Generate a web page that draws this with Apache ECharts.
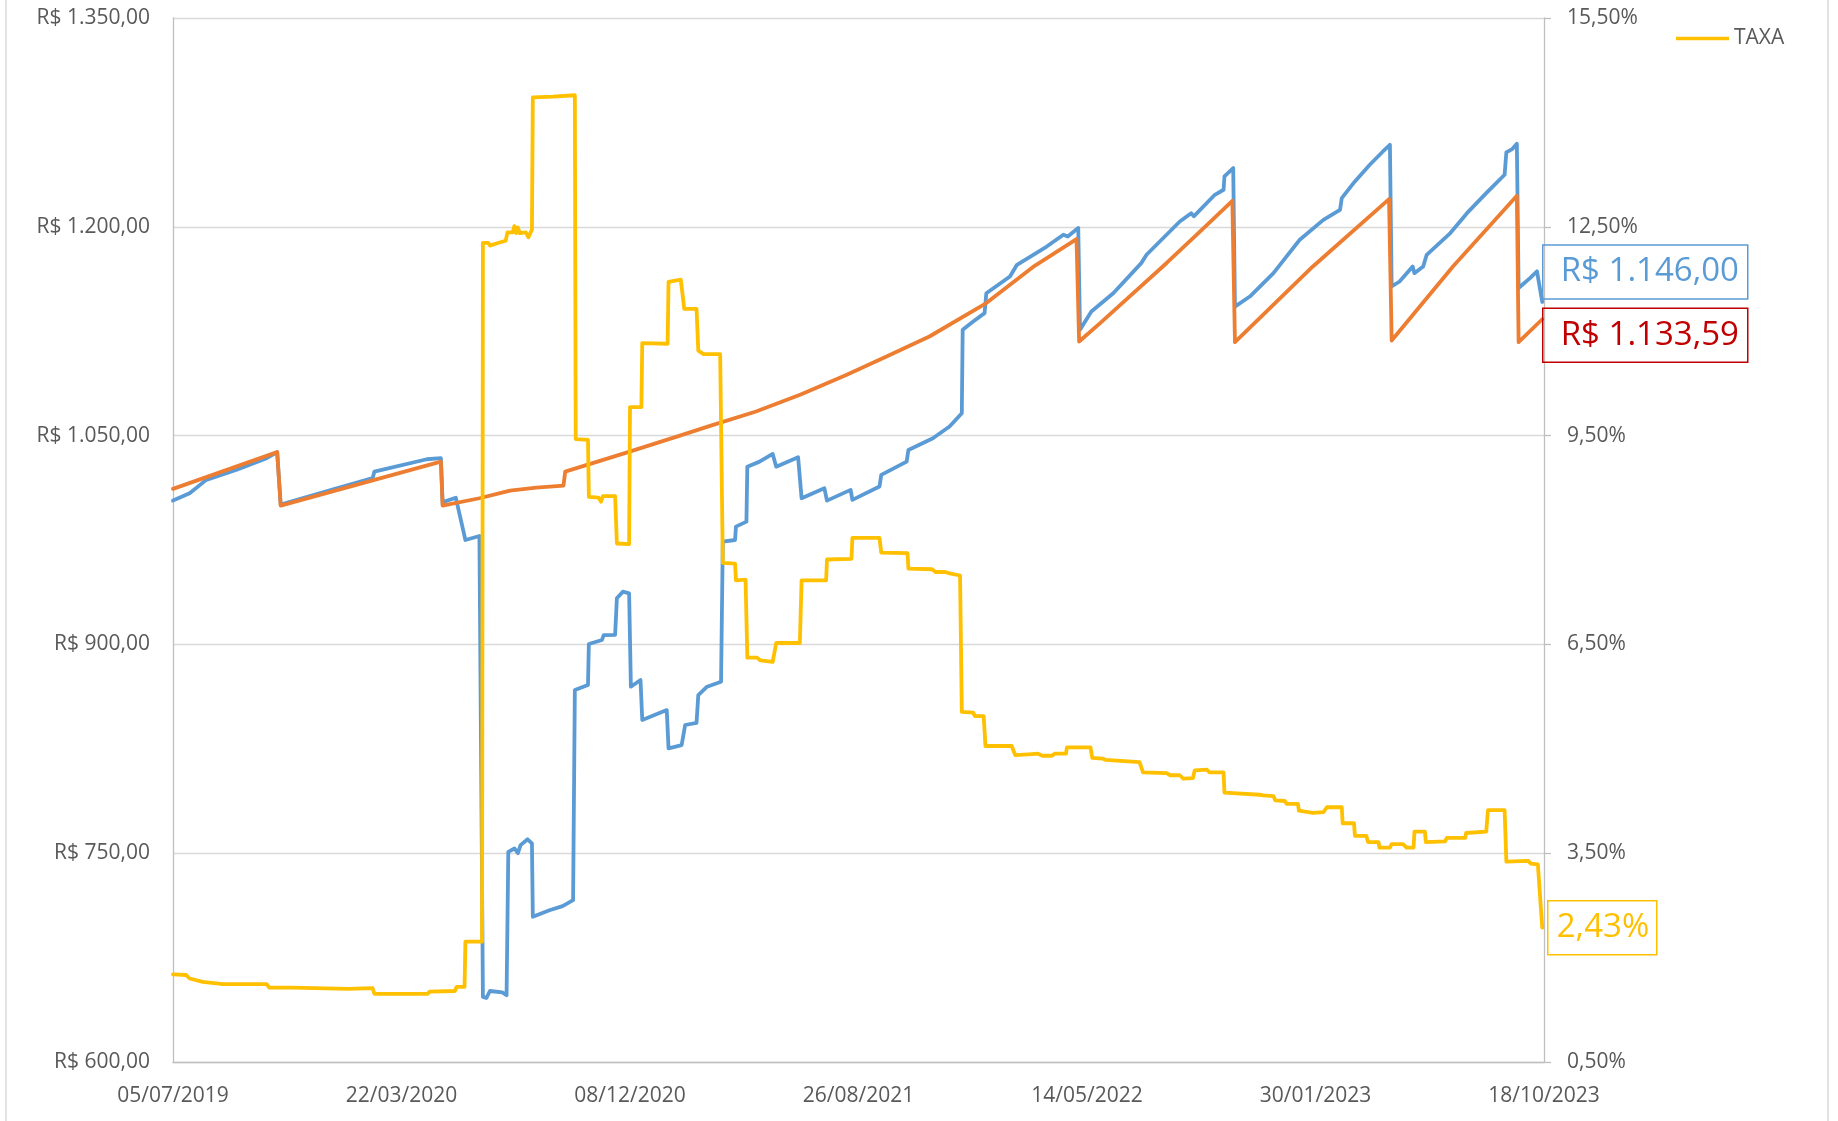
<!DOCTYPE html>
<html>
<head>
<meta charset="utf-8">
<style>
  html, body { margin: 0; padding: 0; background: #fff; }
  #chart { width: 1838px; height: 1121px; }
</style>
<script src="https://cdn.jsdelivr.net/npm/echarts@6/dist/echarts.min.js"></script>
</head>
<body>
<div id="chart"></div>
<script>
// eixo x: dias corridos desde 05/07/2019
const xTickLabels = ['05/07/2019', '22/03/2020', '08/12/2020', '26/08/2021', '14/05/2022', '30/01/2023', '18/10/2023'];
const X_STEP = 261;

// [dia, R$] preço de mercado
const precoMercado = [
  [0, 1003.3], [19, 1008.6], [38, 1018.2], [72, 1025.3], [107, 1033.8], [119, 1038.1], [123, 1000.5],
  [187, 1012.2], [228, 1019.4], [230, 1024.1], [290, 1033.0], [306, 1033.8], [308, 1000.5], [310, 1002.6],
  [323, 1005.4], [334, 975.0], [350, 977.9], [354, 646.8], [358, 646.0], [362, 651.0], [376, 650.0],
  [381, 648.0], [383, 751.0], [390, 753.4], [394, 750.0], [397, 755.8], [405, 760.0], [410, 757.0],
  [411, 704.3], [430, 709.0], [445, 712.0], [457, 716.3], [459, 867.2], [474, 870.8], [475, 900.3],
  [490, 903.2], [492, 906.6], [505, 906.8], [507, 933.1], [514, 937.9], [521, 936.7], [523, 869.6],
  [534, 874.4], [536, 845.7], [564, 852.8], [566, 825.3], [581, 827.7], [585, 842.1], [598, 843.7],
  [600, 863.6], [610, 869.6], [626, 873.2], [628, 973.8], [642, 975.0], [643, 984.6], [655, 988.2],
  [656, 1027.7], [670, 1031.3], [685, 1036.8], [689, 1027.7], [714, 1034.5], [718, 1005.0], [744, 1012.2],
  [747, 1003.3], [774, 1011.0], [776, 1003.8], [807, 1013.4], [809, 1021.8], [838, 1031.3], [840, 1039.7],
  [868, 1048.1], [887, 1056.5], [901, 1066.1], [902, 1126.0], [914, 1132.0], [927, 1138.0], [929, 1152.3],
  [956, 1164.3], [964, 1172.7], [998, 1185.8], [1017, 1194.3], [1022, 1193.0], [1034, 1199.1], [1036, 1126.0],
  [1049, 1139.1], [1074, 1152.3], [1106, 1173.9], [1112, 1179.9], [1150, 1203.8], [1163, 1209.8],
  [1166, 1207.5], [1190, 1223.0], [1200, 1226.6], [1201, 1236.2], [1211, 1242.2], [1213, 1142.7],
  [1230, 1149.9], [1257, 1166.7], [1272, 1178.7], [1287, 1190.7], [1314, 1205.0], [1333, 1212.2],
  [1335, 1220.6], [1350, 1232.6], [1367, 1244.6], [1382, 1254.1], [1390, 1258.9], [1392, 1157.1],
  [1401, 1160.7], [1416, 1171.5], [1418, 1166.7], [1428, 1171.5], [1432, 1179.9], [1459, 1195.5],
  [1478, 1209.8], [1500, 1224.2], [1521, 1237.4], [1523, 1253.4], [1530, 1256.0], [1535, 1259.7],
  [1537, 1156.0], [1550, 1163.1], [1558, 1168.0], [1564, 1146.00]
];

// [dia, R$] preço na curva
const precoCurva = [
  [0, 1011.7], [119, 1038.1], [123, 999.7], [306, 1031.3], [308, 999.7], [350, 1005.0], [385, 1010.5],
  [415, 1012.6], [446, 1014.1], [448, 1024.1], [518, 1037.8], [579, 1050.0], [617, 1057.7], [666, 1067.3],
  [717, 1079.5], [769, 1093.6], [815, 1106.8], [864, 1121.2], [929, 1145.2], [982, 1171.0], [1032, 1191.2],
  [1035, 1117.6], [1059, 1130.8], [1135, 1174.0], [1173, 1196.6], [1210, 1218.7], [1213, 1117.1],
  [1302, 1171.5], [1389, 1219.9], [1392, 1118.3], [1462, 1171.5], [1535, 1222.3], [1537, 1117.1],
  [1564, 1133.59]
];

// [dia, %] taxa
const taxa = [
  [0, 1.76], [15, 1.75], [19, 1.70], [34, 1.65], [57, 1.62], [107, 1.62], [110, 1.57], [135, 1.57],
  [137, 1.55], [200, 1.55], [228, 1.56], [230, 1.48], [291, 1.48], [293, 1.51], [322, 1.52], [324, 1.58],
  [333, 1.58], [334, 2.23], [353, 2.23], [354, 12.27], [360, 12.27], [362, 12.23], [372, 12.27],
  [380, 12.30], [382, 12.42], [388, 12.42], [390, 12.51], [392, 12.41], [394, 12.49], [396, 12.41],
  [403, 12.42], [406, 12.35], [410, 12.46], [411, 14.36], [434, 14.37], [459, 14.39], [460, 9.45],
  [474, 9.44], [475, 8.62], [486, 8.61], [489, 8.55], [491, 8.63], [505, 8.63], [507, 7.95], [521, 7.94],
  [522, 9.91], [535, 9.91], [536, 10.83], [565, 10.82], [566, 11.71], [580, 11.74], [584, 11.32],
  [598, 11.32], [600, 10.72], [606, 10.67], [625, 10.67], [628, 7.67], [642, 7.66], [643, 7.42],
  [654, 7.43], [656, 6.31], [667, 6.31], [671, 6.27], [685, 6.25], [689, 6.52], [716, 6.52], [718, 7.42],
  [746, 7.42], [747, 7.72], [775, 7.73], [776, 8.03], [807, 8.03], [809, 7.82], [839, 7.81], [840, 7.59],
  [867, 7.58], [871, 7.54], [882, 7.54], [887, 7.52], [899, 7.49], [901, 5.53], [914, 5.52], [916, 5.47],
  [926, 5.47], [928, 5.04], [958, 5.04], [962, 4.91], [977, 4.92], [988, 4.93], [993, 4.90], [1004, 4.90],
  [1007, 4.93], [1020, 4.93], [1021, 5.02], [1048, 5.02], [1050, 4.87], [1062, 4.86], [1065, 4.84],
  [1104, 4.81], [1108, 4.66], [1135, 4.65], [1139, 4.62], [1150, 4.62], [1154, 4.57], [1165, 4.58],
  [1167, 4.69], [1181, 4.70], [1184, 4.66], [1200, 4.66], [1201, 4.37], [1241, 4.34], [1245, 4.33],
  [1257, 4.32], [1259, 4.26], [1270, 4.25], [1272, 4.21], [1285, 4.21], [1286, 4.11], [1302, 4.08],
  [1314, 4.09], [1318, 4.16], [1335, 4.16], [1336, 3.93], [1349, 3.93], [1350, 3.75], [1363, 3.75],
  [1365, 3.66], [1377, 3.66], [1378, 3.58], [1390, 3.58], [1392, 3.63], [1405, 3.63], [1409, 3.58],
  [1417, 3.58], [1418, 3.81], [1430, 3.81], [1431, 3.66], [1453, 3.67], [1455, 3.72], [1476, 3.72],
  [1477, 3.79], [1500, 3.81], [1502, 4.12], [1521, 4.12], [1523, 3.38], [1548, 3.39], [1551, 3.35],
  [1559, 3.34], [1564, 2.43]
];

const FONT = '"Open Sans", "Noto Sans", sans-serif';
const TEXT_GRAY = '#595959';
const AXIS_GRAY = '#bfbfbf';
const GRID_GRAY = '#d9d9d9';

function brl(value) {
  const [intPart, dec] = Number(value).toFixed(2).split('.');
  return 'R$ ' + intPart.replace(/\B(?=(\d{3})+(?!\d))/g, '.') + ',' + dec;
}

function pct(value) {
  return Number(value).toFixed(2).replace('.', ',') + '%';
}

function axisText() {
  return { color: TEXT_GRAY, fontSize: 21, fontFamily: FONT };
}

// caixa de rótulo no último ponto de cada série
function endBox(data, text, color, opts) {
  return {
    symbol: 'circle',
    symbolSize: 1,
    silent: true,
    itemStyle: { color: 'rgba(0,0,0,0)' },
    label: {
      show: true,
      position: 'right',
      distance: opts.distance,
      offset: opts.offset,
      formatter: text,
      color,
      fontSize: 33,
      fontFamily: FONT,
      lineHeight: 34,
      width: opts.width,
      overflow: 'none',
      borderColor: color,
      borderWidth: 1.5,
      padding: opts.padding,
    },
    data: [{ coord: data[data.length - 1] }],
  };
}

const lineStyle = { width: 3.8, join: 'round', cap: 'round' };

const chart = echarts.init(document.getElementById('chart'), null, { renderer: 'canvas' });
chart.setOption({
  animation: false,
  backgroundColor: '#fff',
  textStyle: { fontFamily: FONT },
  grid: { left: 173, right: 294, top: 18, bottom: 59, outerBoundsMode: 'none' },
  legend: {
    data: ['TAXA'],
    left: 1671,
    top: 23,
    icon: 'rect',
    itemWidth: 53,
    itemHeight: 3.6,
    textStyle: axisText(),
  },
  graphic: [
    { type: 'line', shape: { x1: 6, y1: 0, x2: 6, y2: 1121 }, style: { stroke: GRID_GRAY, lineWidth: 1.5 }, silent: true },
    { type: 'line', shape: { x1: 1828, y1: 0, x2: 1828, y2: 1121 }, style: { stroke: GRID_GRAY, lineWidth: 1.5 }, silent: true },
  ],
  xAxis: {
    type: 'value',
    min: 0,
    max: X_STEP * (xTickLabels.length - 1),
    interval: X_STEP,
    axisLine: { lineStyle: { color: AXIS_GRAY, width: 1.3 } },
    axisTick: { show: false },
    splitLine: { show: false },
    axisLabel: { ...axisText(), margin: 24, formatter: v => xTickLabels[Math.round(v / X_STEP)] || '' },
  },
  yAxis: [
    {
      type: 'value',
      min: 600,
      max: 1350,
      interval: 150,
      axisLine: { show: true, lineStyle: { color: AXIS_GRAY, width: 1.3 } },
      axisTick: { show: false },
      splitLine: { lineStyle: { color: GRID_GRAY, width: 1.3 } },
      axisLabel: { ...axisText(), margin: 23, formatter: brl },
    },
    {
      type: 'value',
      min: 0.5,
      max: 15.5,
      interval: 3,
      axisLine: { show: true, lineStyle: { color: AXIS_GRAY, width: 1.3 } },
      axisTick: { show: true, length: 7, lineStyle: { color: AXIS_GRAY, width: 1.3 } },
      splitLine: { show: false },
      axisLabel: { ...axisText(), margin: 23, formatter: pct },
    },
  ],
  series: [
    {
      name: 'PU MERCADO',
      type: 'line',
      symbol: 'none',
      color: '#5b9bd5',
      lineStyle,
      data: precoMercado,
      markPoint: endBox(precoMercado, brl(precoMercado[precoMercado.length - 1][1]), '#5b9bd5',
        { distance: 0, offset: [0, -30], width: 177, padding: [20, 10, 0, 18] }),
    },
    {
      name: 'PU CURVA',
      type: 'line',
      symbol: 'none',
      color: '#ed7d31',
      lineStyle,
      data: precoCurva,
      markPoint: endBox(precoCurva, brl(precoCurva[precoCurva.length - 1][1]), '#c00000',
        { distance: 0, offset: [0, 16], width: 177, padding: [20, 10, 0, 18] }),
    },
    {
      name: 'TAXA',
      type: 'line',
      yAxisIndex: 1,
      symbol: 'none',
      color: '#ffc000',
      lineStyle,
      data: taxa,
      markPoint: endBox(taxa, pct(taxa[taxa.length - 1][1]), '#ffc000',
        { distance: 5, offset: [0, 0], width: 92, padding: [20, 8, 0, 9] }),
    },
  ],
});
</script>
</body>
</html>
